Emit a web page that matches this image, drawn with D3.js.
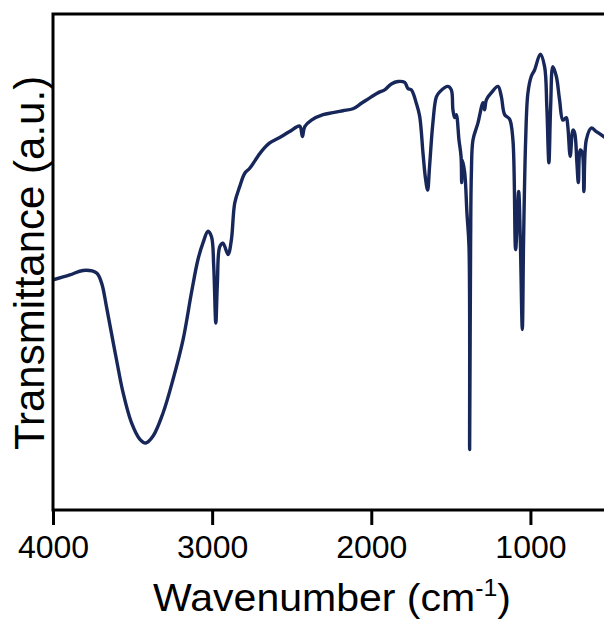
<!DOCTYPE html>
<html>
<head>
<meta charset="utf-8">
<script src="https://cdn.jsdelivr.net/npm/d3@7"></script>
<style>
  body { margin: 0; background: #fff; }
  svg { display: block; font-family: "Liberation Sans", Arial, sans-serif; }
</style>
</head>
<body>
<svg id="chart"></svg>
<script>

// wavenumber (cm-1), high to low
var wavenumber = [4000,3894,3811,3727,3695,3664,3633,3601,3560,3507,3455,3417,3371,3308,3246,3183,3130,3089,3057,3026,
  3004,2990,2977,2967,2952,2932,2900,2879,2858,2827,2795,2764,2690,2638,2565,2513,2450,2433,2418,2376,
  2303,2241,2178,2115,2062,2000,1947,1916,1874,1832,1790,1770,1748,1717,1696,1675,1660,1646,1634,1613,
  1591,1570,1518,1497,1487,1476,1466,1449,1436,1432,1428,1413,1399,1386,1382,1376,1371,1361,1330,1298,
  1288,1277,1246,1204,1183,1162,1131,1110,1093,1074,1064,1051,1043,1030,1016,995,974,938,911,897,
  884,873,859,837,817,796,775,765,750,733,722,708,699,687,674,664,649,618,586,540,500];

// transmittance (a.u.), 0 = bottom of frame, 100 = top
var transmittance = [46.4,47.4,48.3,47.8,45.8,41.0,35.7,30.3,23.7,17.6,14.3,13.5,14.9,19.6,26.3,34.3,43.8,50.5,53.9,56.2,
  55.1,49.1,37.7,45.8,53.1,53.8,51.5,54.5,61.9,65.2,67.9,68.9,72.3,74.0,75.3,76.3,77.4,75.3,77.3,78.6,
  79.7,80.1,80.5,80.9,82.0,83.3,84.3,84.7,85.9,86.4,86.2,85.0,84.7,82.0,79.4,71.9,67.0,64.5,69.2,78.0,
  83.3,84.3,85.4,84.7,80.7,79.1,79.7,74.6,71.3,66.0,70.5,68.0,59.9,53.1,12.2,53.1,68.0,74.6,78.0,82.1,
  80.7,82.7,84.1,85.4,83.4,79.7,78.8,74.6,52.5,64.2,55.1,36.4,54.5,74.6,84.0,87.4,88.7,91.9,89.4,81.3,
  70.0,81.3,89.4,87.4,82.7,78.6,79.1,77.3,71.3,76.6,76.0,70.0,66.0,72.6,72.0,64.2,74.6,77.0,76.3,75.3,74.5];

var xTicks = [4000, 3000, 2000, 1000];

var svgW = 604, svgH = 621;
var plotL = 53, plotR = 610, plotT = 14, plotB = 510;

var data = wavenumber.map(function(w, i){ return {w: w, t: transmittance[i]}; });

var x = d3.scaleLinear().domain([4000, 500]).range([plotL, plotR]);
var y = d3.scaleLinear().domain([0, 100]).range([plotB, plotT]);

var svg = d3.select('#chart').attr('width', svgW).attr('height', svgH);

svg.append('defs').append('clipPath').attr('id', 'plotclip')
   .append('rect')
   .attr('x', plotL).attr('y', plotT)
   .attr('width', plotR - plotL).attr('height', plotB - plotT);

var line = d3.line()
  .x(d => x(d.w))
  .y(d => y(d.t))
  .curve(d3.curveCatmullRom.alpha(0.5));

svg.append('path')
   .datum(data)
   .attr('clip-path', 'url(#plotclip)')
   .attr('d', line)
   .attr('fill', 'none')
   .attr('stroke', '#172759')
   .attr('stroke-width', 3.4)
   .attr('stroke-linejoin', 'round');

// x axis with outward ticks, no domain line (frame drawn below)
var xAxis = svg.append('g')
   .attr('transform', 'translate(0,' + plotB + ')')
   .call(d3.axisBottom(x).tickValues(xTicks).tickSize(15).tickPadding(10).tickFormat(d3.format('d')));
xAxis.select('.domain').remove();
xAxis.selectAll('.tick line').attr('stroke', '#000').attr('stroke-width', 3);
xAxis.selectAll('.tick text')
   .attr('fill', '#000')
   .style('font-size', '32px')
   .style('font-family', '"Liberation Sans", Arial, sans-serif');

// frame
svg.append('rect')
   .attr('x', plotL).attr('y', plotT)
   .attr('width', plotR - plotL).attr('height', plotB - plotT)
   .attr('fill', 'none')
   .attr('stroke', '#000')
   .attr('stroke-width', 3);

// axis titles
var xTitle = svg.append('text')
   .attr('transform', 'translate(332,611) scale(1.08,1)')
   .attr('text-anchor', 'middle')
   .style('font-size', '38px')
   .attr('fill', '#000');
xTitle.append('tspan').text('Wavenumber (cm');
xTitle.append('tspan').attr('dy', -15).style('font-size', '23px').text('-1');
xTitle.append('tspan').attr('dy', 15).text(')');

svg.append('text')
   .attr('transform', 'translate(44,' + 263 + ') rotate(-90)')
   .attr('text-anchor', 'middle')
   .style('font-size', '42px')
   .attr('fill', '#000')
   .text('Transmittance (a.u.)');

</script>
</body>
</html>
